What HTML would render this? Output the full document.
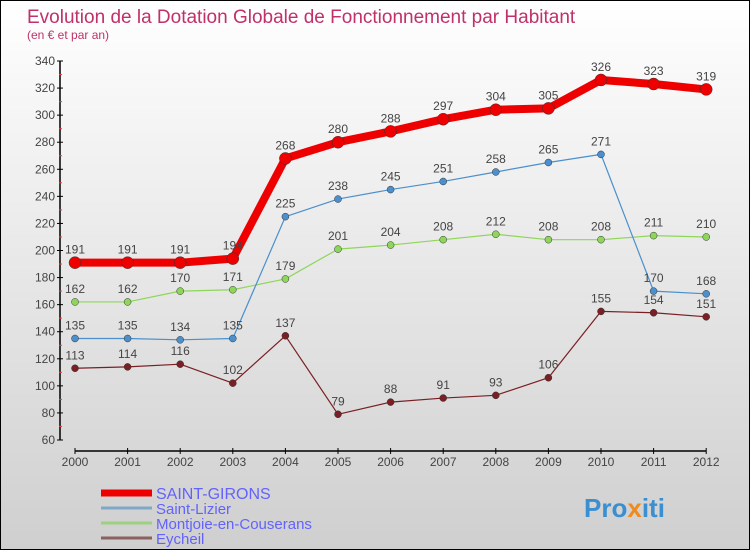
<!DOCTYPE html>
<html><head><meta charset="utf-8"><style>
body{margin:0;width:750px;height:550px;overflow:hidden;font-family:"Liberation Sans",sans-serif}
#c{position:absolute;left:0;top:0;width:748px;height:548px;border:1px solid #000;background:linear-gradient(#ffffff,#cfcfcf)}
</style></head><body>
<div id="c">
<svg id="s" width="748" height="548" xmlns="http://www.w3.org/2000/svg">
<text x="26" y="22" font-size="19" fill="#c0306a">Evolution de la Dotation Globale de Fonctionnement par Habitant</text>
<text x="26" y="38" font-size="12" fill="#c0306a">(en € et par an)</text>
<g id="axes"></g><g id="series"></g><g id="legend"></g>
<text x="583" y="516" font-size="26" font-weight="bold" fill="#3a8fd0">Pro<tspan fill="#f08a1c">x</tspan>iti</text>
</svg></div>
<script>
const years=[2000,2001,2002,2003,2004,2005,2006,2007,2008,2009,2010,2011,2012];
const saintGirons=[191,191,191,194,268,280,288,297,304,305,326,323,319];
const saintLizier=[135,135,134,135,225,238,245,251,258,265,271,170,168];
const montjoie=[162,162,170,171,179,201,204,208,212,208,208,211,210];
const eycheil=[113,114,116,102,137,79,88,91,93,106,155,154,151];
const yTicks=[60,80,100,120,140,160,180,200,220,240,260,280,300,320,340];
const NS="http://www.w3.org/2000/svg";
const X=i=>74+i*52.6;
const Y=v=>439-(v-60)*(379/280);
function el(t,a,p){const e=document.createElementNS(NS,t);for(const k in a)e.setAttribute(k,a[k]);p.appendChild(e);return e;}
const ax=document.getElementById('axes');
let l=el('line',{x1:59,y1:Y(340),x2:59,y2:Y(60),stroke:'#000','stroke-width':1.5},ax);


yTicks.forEach(v=>{
 el('line',{x1:56,x2:62,y1:Y(v),y2:Y(v),stroke:'#000'},ax);
 if(v<340){const m=el('line',{x1:58,x2:61,y1:Y(v+10),y2:Y(v+10),stroke:'#f33'},ax);}
 const t=el('text',{x:54,y:Y(v)+4,'font-size':12,fill:'#444','text-anchor':'end'},ax);
 t.textContent=v;
 
 
});
l=el('line',{x1:X(0),y1:450,x2:X(12),y2:450,stroke:'#000','stroke-width':1.5},ax);


years.forEach((y,i)=>{
 el('line',{x1:X(i),x2:X(i),y1:447,y2:453,stroke:'#000'},ax);
 const t=el('text',{x:X(i),y:465,'font-size':12,fill:'#444','text-anchor':'middle'},ax);
 t.textContent=y;
 
 
});
const sg=document.getElementById('series');
function series(data,color,w,r,name){
 const g=el('g',{},sg);
 
 
 el('polyline',{points:data.map((v,i)=>X(i)+','+Y(v)).join(' '),fill:'none',stroke:color,'stroke-width':w,'stroke-linejoin':'round'},g);
 data.forEach((v,i)=>{
  const c=el('circle',{cx:X(i),cy:Y(v),r:r,fill:color,stroke:'#333','stroke-width':0.5},g);
  
  
  const t=el('text',{x:X(i),y:Y(v)-9,'font-size':12,fill:'#444','text-anchor':'middle'},g);
  t.textContent=v;
  
  
 });
}
series(eycheil,'#7a1f24',1.2,3.5,'eycheil-series');
series(montjoie,'#8ed65a',1.2,3.5,'montjoie-series');
series(saintLizier,'#4b8fcc',1.2,3.5,'saint-lizier-series');
series(saintGirons,'#ee0000',8,6,'saint-girons-series');
const lg=document.getElementById('legend');
const items=[['SAINT-GIRONS','#ee0000',7],['Saint-Lizier','#7fa8c8',3],['Montjoie-en-Couserans','#9ed080',3],['Eycheil','#8a6060',3]];
items.forEach((it,i)=>{
 const y=492+i*15;
 const g=el('g',{},lg);
 
 
 el('line',{x1:100,x2:151,y1:y,y2:y,stroke:it[1],'stroke-width':it[2]},g);
 const t=el('text',{x:155,y:y+6,'font-size':i==0?16:15,fill:'#6262ff'},g);
 t.textContent=it[0];
});
</script></body></html>
